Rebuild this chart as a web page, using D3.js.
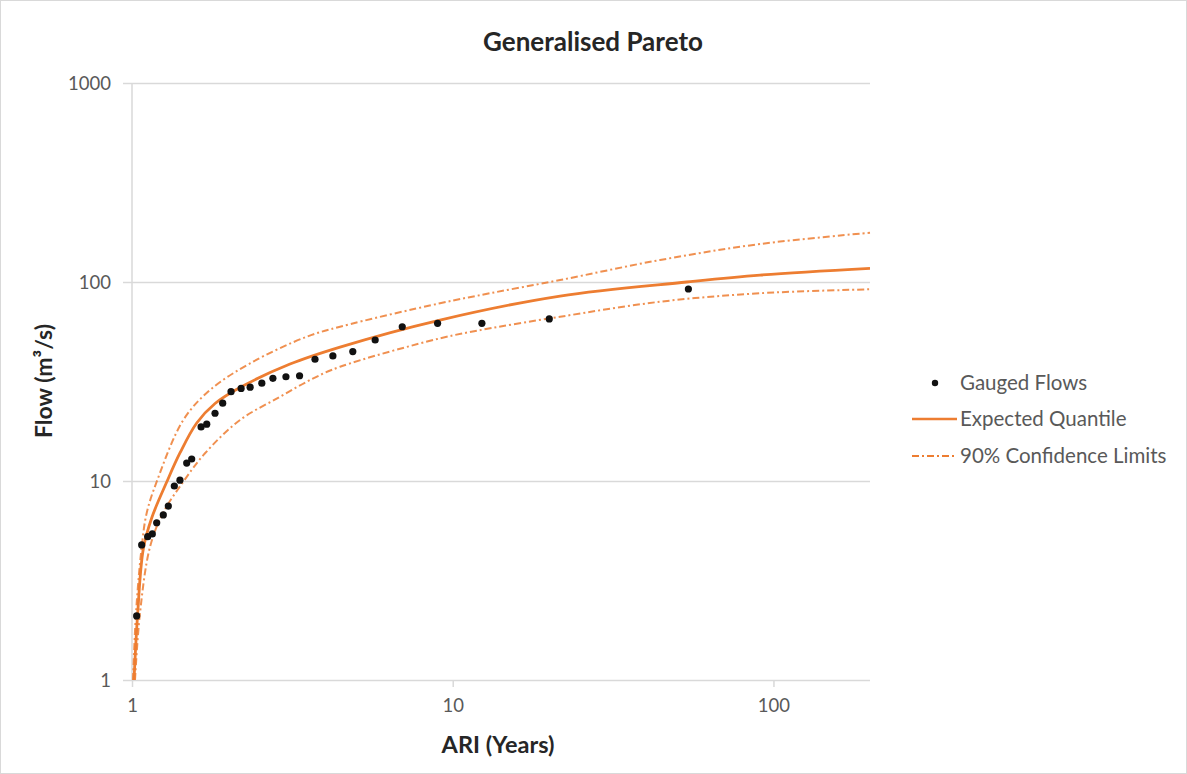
<!DOCTYPE html>
<html>
<head>
<meta charset="utf-8">
<script src="https://cdn.jsdelivr.net/npm/d3@7/dist/d3.min.js"></script>
<style>
  html, body { margin: 0; padding: 0; background: #fff; }
  svg { display: block; }
  text { font-family: Lato, "Open Sans", sans-serif; }
</style>
</head>
<body>
<svg id="chart" width="1187" height="774"></svg>
<script>
// ---- Data ----
const gaugedARI = [1.034, 1.072, 1.119, 1.157, 1.194, 1.252, 1.298, 1.355, 1.411, 1.481, 1.535,
  1.642, 1.710, 1.815, 1.918, 2.036, 2.189, 2.335, 2.54, 2.75, 3.02, 3.33, 3.72, 4.23, 4.88,
  5.73, 6.96, 8.97, 12.33, 20.0, 54.3];
const gaugedFlow = [2.10, 4.77, 5.25, 5.42, 6.17, 6.75, 7.48, 9.44, 10.1, 12.3, 12.9,
  18.7, 19.3, 21.9, 24.6, 28.1, 29.2, 29.6, 31.0, 32.8, 33.4, 33.8, 40.9, 42.5, 44.7,
  51.1, 59.6, 62.0, 62.0, 65.2, 92.2];

const expectedARI  = [1.0145, 1.0418, 1.0845, 1.1519, 1.283, 1.411, 1.5916, 1.815, 2.172, 3.110, 4.453, 9.129, 21.61, 53.66, 90.83, 200];
const expectedFlow = [1.0, 2.17, 4.55, 6.52, 9.88, 13.83, 19.56, 24.51, 29.5, 38.7, 47.1, 64.4, 85.0, 100, 108.4, 117.2];

const upperARI  = [1.0072, 1.0291, 1.0721, 1.1113, 1.1941, 1.4454, 1.7512, 2.333, 3.505, 4.453, 9.129, 13.07, 21.61, 44.31, 90.83, 200];
const upperFlow = [1.0, 2.17, 4.66, 6.91, 9.92, 20.25, 28.66, 39.0, 53.1, 59.6, 78.2, 87.8, 102.3, 129.0, 155.2, 176.9];

const lowerARI  = [1.0218, 1.0591, 1.1379, 1.2496, 1.4454, 1.689, 2.172, 2.894, 3.676, 4.453, 9.129, 13.07, 21.61, 44.31, 90.83, 200];
const lowerFlow = [1.0, 2.17, 4.66, 6.91, 9.92, 13.78, 20.25, 26.5, 32.8, 37.5, 52.1, 58.5, 66.9, 79.6, 87.8, 91.9];

const xTicks = [1, 10, 100];
const yTicks = [1, 10, 100, 1000];
const legendLabels = ["Gauged Flows", "Expected Quantile", "90% Confidence Limits"];
const titleText = "Generalised Pareto";
const xTitle = "ARI (Years)";
const yTitle = "Flow (m\u00B3/s)";

// ---- Drawing ----
const svg = d3.select("#chart");
const W = 1187, H = 774;
const orange = "#ED7D31";
const grid = "#d9d9d9";
const labelColor = "#595959";
const L = 132, R = 870, B = 680, T = 83;

svg.append("rect").attr("x", 0.5).attr("y", 0.5).attr("width", W - 1).attr("height", H - 1)
  .attr("fill", "#fff").attr("stroke", "#d9d9d9");

const x = d3.scaleLog().domain([1, 200]).range([L, R]);
const y = d3.scaleLog().domain([1, 1000]).range([B, T]);

// horizontal gridlines + y labels
const gy = svg.append("g")
  .attr("transform", `translate(${L},0)`)
  .call(d3.axisLeft(y).tickValues(yTicks).tickFormat(d3.format("d"))
    .tickSize(-(R - L)).tickPadding(21));
gy.select(".domain").remove();
gy.selectAll(".tick line").attr("stroke", grid).attr("stroke-width", 1.5)
  .attr("x1", -9).attr("x2", R - L);
gy.selectAll(".tick text").attr("fill", labelColor).style("font-size", "18.5px").attr("dy", "0.35em");

// vertical axis line
svg.append("line").attr("x1", L).attr("x2", L).attr("y1", T).attr("y2", B)
  .attr("stroke", grid).attr("stroke-width", 1.5);

// x axis
const gx = svg.append("g")
  .attr("transform", `translate(0,${B})`)
  .call(d3.axisBottom(x).tickValues(xTicks).tickFormat(d3.format("d")).tickSize(7).tickPadding(12));
gx.select(".domain").remove();
gx.selectAll(".tick line").attr("stroke", grid).attr("stroke-width", 1.5);
gx.selectAll(".tick text").attr("fill", labelColor).style("font-size", "18.5px");

// titles
svg.append("text").attr("x", 593).attr("y", 51).attr("text-anchor", "middle")
  .style("font-size", "26px").style("font-weight", "bold").attr("fill", "#262626").text(titleText);
svg.append("text").attr("x", 498).attr("y", 753).attr("text-anchor", "middle")
  .style("font-size", "23.5px").style("font-weight", "bold").attr("fill", "#262626").text(xTitle);
svg.append("text").attr("transform", "translate(52,381) rotate(-90)").attr("text-anchor", "middle")
  .style("font-size", "23px").style("font-weight", "bold").attr("fill", "#262626").text(yTitle);

// clip
svg.append("clipPath").attr("id", "plotclip").append("rect")
  .attr("x", L).attr("y", 60).attr("width", R - L + 2).attr("height", B - 60);

const line = d3.line().x(d => x(d[0])).y(d => y(d[1])).curve(d3.curveCatmullRom.alpha(0.5));
const plot = svg.append("g").attr("clip-path", "url(#plotclip)");

const dash = "7,3,2,3";
plot.append("path").datum(d3.zip(upperARI, upperFlow)).attr("d", line)
  .attr("fill", "none").attr("stroke", orange).attr("stroke-width", 2).attr("stroke-dasharray", dash).attr("opacity", 0.85);
plot.append("path").datum(d3.zip(lowerARI, lowerFlow)).attr("d", line)
  .attr("fill", "none").attr("stroke", orange).attr("stroke-width", 2).attr("stroke-dasharray", dash).attr("opacity", 0.85);
plot.append("path").datum(d3.zip(expectedARI, expectedFlow)).attr("d", line)
  .attr("fill", "none").attr("stroke", orange).attr("stroke-width", 2.8);

svg.append("g").selectAll("circle").data(d3.zip(gaugedARI, gaugedFlow)).join("circle")
  .attr("cx", d => x(d[0])).attr("cy", d => y(d[1])).attr("r", 3.6).attr("fill", "#111");

// legend
const leg = svg.append("g");
const ly = [383, 419, 456];
leg.append("circle").attr("cx", 935).attr("cy", ly[0]).attr("r", 3.2).attr("fill", "#111");
leg.append("line").attr("x1", 912).attr("x2", 957).attr("y1", ly[1]).attr("y2", ly[1])
  .attr("stroke", orange).attr("stroke-width", 2.5);
leg.append("line").attr("x1", 912).attr("x2", 957).attr("y1", ly[2]).attr("y2", ly[2])
  .attr("stroke", orange).attr("stroke-width", 2).attr("stroke-dasharray", dash);
legendLabels.forEach((t, i) => {
  leg.append("text").attr("x", 960).attr("y", ly[i]).attr("dy", "0.35em")
    .attr("fill", labelColor).style("font-size", "20.5px").text(t);
});
</script>
</body>
</html>
